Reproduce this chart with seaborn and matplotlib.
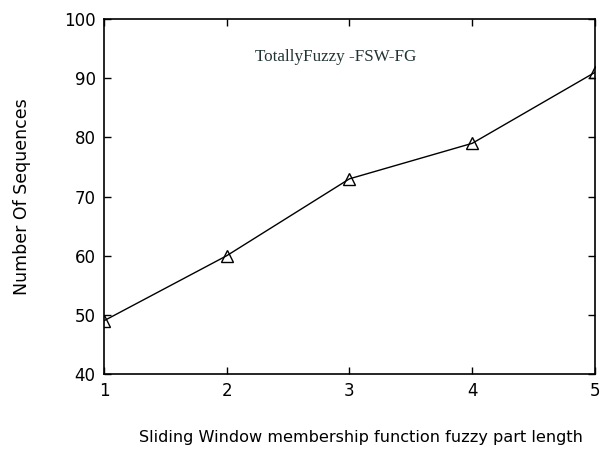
import matplotlib
matplotlib.use("Agg")
import matplotlib.pyplot as plt
import seaborn as sns
import pandas as pd

x_vals = [1, 2, 3, 4, 5]
y_vals = [49, 60, 73, 79, 91]
x_ticks = [1, 2, 3, 4, 5]
y_ticks = [40, 50, 60, 70, 80, 90, 100]

sns.set_style("ticks")
plt.rcParams['font.family'] = ['DejaVu Sans']

df = pd.DataFrame({"x": x_vals, "y": y_vals})
fig = plt.figure(figsize=(6.01, 4.55), dpi=100)
ax = fig.add_axes([0.173, 0.178, 0.817, 0.780])
sns.lineplot(data=df, x="x", y="y", ax=ax, color="black", linewidth=1.0,
             marker="^", markersize=9, markerfacecolor="none",
             markeredgecolor="black", markeredgewidth=1.0)
ax.set_xlim(1, 5)
ax.set_ylim(40, 100)
ax.set_xticks(x_ticks)
ax.set_yticks(y_ticks)
ax.tick_params(direction="in", top=True, right=True, length=5, width=1,
               labelsize=12, pad=6, colors="black")
for s in ax.spines.values():
    s.set_visible(True)
    s.set_linewidth(1.2)
    s.set_color("black")
ax.set_xlabel("Sliding Window membership function fuzzy part length", fontsize=11.6,
              color="black")
ax.xaxis.set_label_coords(0.523, -0.158)
ax.set_ylabel("Number Of Sequences", fontsize=12.5, labelpad=24, color="black")
ax.text(0.472, 0.893, "TotallyFuzzy -FSW-FG", transform=ax.transAxes,
        ha="center", va="center", fontsize=12.3, family=["Liberation Serif"], color="#223333")
fig.savefig("out.png", dpi=100)
